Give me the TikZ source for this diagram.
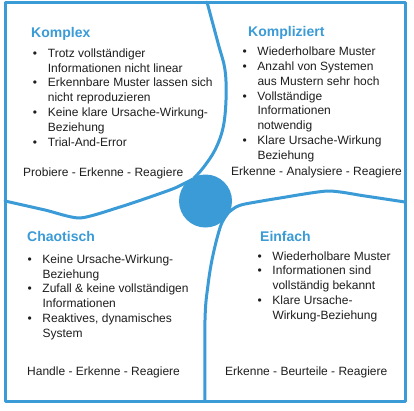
\documentclass[tikz,border=0pt]{standalone}
\usepackage{fontspec}
\setmainfont{Liberation Sans}
\definecolor{cblue}{RGB}{58,155,215}
\definecolor{ctext}{RGB}{30,30,30}
\newcommand{\bl}{\makebox[15pt][l]{\textbullet}}
\newcommand{\ind}{\hspace*{15pt}}
\begin{document}
\begin{tikzpicture}[x=1pt,y=-1pt,line join=round,line cap=round,
  frame/.style={draw=cblue,line width=3pt},
  divider/.style={draw=cblue,line width=3pt},
  hub/.style={circle,fill=cblue,minimum size=53pt,inner sep=0},
  title/.style={anchor=base west,inner sep=0,font=\fontsize{14}{17}\selectfont\bfseries,text=cblue},
  body/.style={anchor=base west,inner sep=0,font=\fontsize{12}{14.8}\selectfont,text=ctext}]
\useasboundingbox (0,0) rectangle (414,410);
\fill[white] (0,0) rectangle (414,410);
% dividers
\draw[divider] plot[smooth,tension=0.6] coordinates {(207,2) (218,43) (225,70) (226,100) (223,128) (215,150) (203,168) (194,178)};
\draw[divider] plot[smooth,tension=0.4] coordinates {(5,201) (45,210) (80,218) (120,207) (150,197) (175,188) (193,179)};
\draw[divider] plot[smooth,tension=0.4] coordinates {(405,202) (365,196) (328,191) (280,198) (245,204) (236,207) (229,212)};
\draw[divider] plot[smooth,tension=0.6] coordinates {(229,212) (221,225) (213,255) (208,285) (205,320) (205,401)};
\node[hub] (hub) at (205.5,201) {};
\draw[frame] (5,2) rectangle (405,401);
% Komplex
\node[title] (t1) at (31,37) {Komplex};
\node[body] (b1) at (32.7,57.3) {\begin{tabular}[t]{@{}l@{}}
\bl Trotz vollständiger\\
\ind Informationen nicht linear\\
\bl Erkennbare Muster lassen sich\\
\ind nicht reproduzieren\\
\bl Keine klare Ursache-Wirkung-\\
\ind Beziehung\\
\bl Trial-And-Error
\end{tabular}};
\node[body] (f1) at (23,176) {Probiere - Erkenne - Reagiere};
% Kompliziert
\node[title] (t2) at (248,36) {Kompliziert};
\node[body] (b2) at (242.3,55.7) {\begin{tabular}[t]{@{}l@{}}
\bl Wiederholbare Muster\\
\bl Anzahl von Systemen\\
\ind aus Mustern sehr hoch\\
\bl Vollständige\\
\ind Informationen\\
\ind notwendig\\
\bl Klare Ursache-Wirkung\\
\ind Beziehung
\end{tabular}};
\node[body] (f2) at (231,175.7) {Erkenne - Analysiere - Reagiere};
% Chaotisch
\node[title] (t3) at (27,241.7) {Chaotisch};
\node[body] (b3) at (27.3,263.3) {\begin{tabular}[t]{@{}l@{}}
\bl Keine Ursache-Wirkung-\\
\ind Beziehung\\
\bl Zufall \& keine vollständigen\\
\ind Informationen\\
\bl Reaktives, dynamisches\\
\ind System
\end{tabular}};
\node[body] (f3) at (27,375.7) {Handle - Erkenne - Reagiere};
% Einfach
\node[title] (t4) at (260,241.7) {Einfach};
\node[body] (b4) at (257.3,260) {\begin{tabular}[t]{@{}l@{}}
\bl Wiederholbare Muster\\
\bl Informationen sind\\
\ind vollständig bekannt\\
\bl Klare Ursache-\\
\ind Wirkung-Beziehung
\end{tabular}};
\node[body] (f4) at (225,375.7) {Erkenne - Beurteile - Reagiere};
\end{tikzpicture}
\end{document}
